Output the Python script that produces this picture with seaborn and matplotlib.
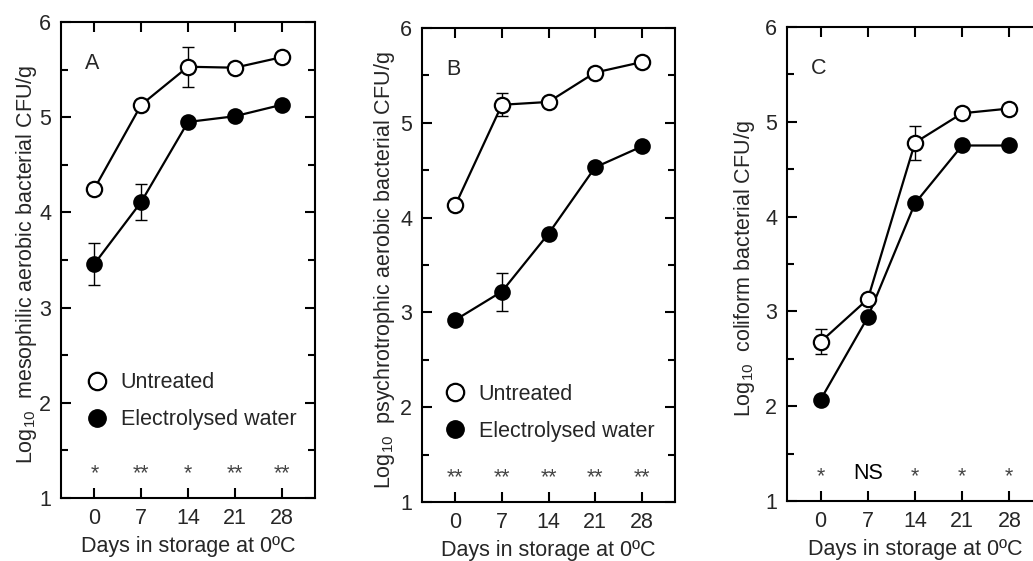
import numpy as np
import pandas as pd
import matplotlib
matplotlib.use("Agg")
import matplotlib.pyplot as plt
import seaborn as sns
from matplotlib.lines import Line2D
from matplotlib.ticker import MultipleLocator

# datos
days = [0, 7, 14, 21, 28]

a_untreated = [4.25, 5.13, 5.53, 5.52, 5.63]
a_untreated_err = [np.nan, np.nan, 0.21, np.nan, np.nan]
a_electro = [3.46, 4.11, 4.95, 5.01, 5.13]
a_electro_err = [0.22, 0.19, np.nan, np.nan, np.nan]
a_sig = ['*', '**', '*', '**', '**']

b_untreated = [4.13, 5.19, 5.22, 5.53, 5.64]
b_untreated_err = [np.nan, 0.12, np.nan, np.nan, np.nan]
b_electro = [2.92, 3.22, 3.83, 4.53, 4.75]
b_electro_err = [np.nan, 0.20, np.nan, np.nan, np.nan]
b_sig = ['**', '**', '**', '**', '**']

c_untreated = [2.68, 3.13, 4.78, 5.09, 5.14]
c_untreated_err = [0.13, np.nan, 0.18, np.nan, np.nan]
c_electro = [2.07, 2.94, 4.14, 4.75, 4.75]
c_electro_err = [np.nan, np.nan, np.nan, np.nan, np.nan]
c_sig = ['*', 'NS', '*', '*', '*']

ylabels = [
    r'Log$_{10}$  mesophilic aerobic bacterial CFU/g',
    r'Log$_{10}$  psychrotrophic aerobic bacterial CFU/g',
    r'Log$_{10}$  coliform bacterial CFU/g',
]
panel_letters = ['A', 'B', 'C']
xlabel = 'Days in storage at 0ºC'

sns.set_style('ticks')
plt.rcParams['font.family'] = ['Liberation Sans', 'DejaVu Sans']
plt.rcParams['mathtext.fontset'] = 'custom'
plt.rcParams['mathtext.rm'] = 'Liberation Sans'
plt.rcParams['mathtext.it'] = 'Liberation Sans:italic'

FS = 15.5
W, H = 1033, 561
fig = plt.figure(figsize=(W / 100, H / 100), dpi=100)

# posiciones en pixeles: izquierda, derecha, arriba, abajo
boxes = [(61, 315, 22, 498), (422, 675, 28, 502), (787, 1043, 27, 501)]
label_x = [-0.086, -0.098, -0.116]
legend_pos = [(0.100, 0.203), (0.088, 0.188), None]

panels = [
    (a_untreated, a_untreated_err, a_electro, a_electro_err, a_sig),
    (b_untreated, b_untreated_err, b_electro, b_electro_err, b_sig),
    (c_untreated, c_untreated_err, c_electro, c_electro_err, c_sig),
]

for i, (unt, unt_err, ele, ele_err, sig) in enumerate(panels):
    l, r, t, b = boxes[i]
    ax = fig.add_axes([l / W, (H - b) / H, (r - l) / W, (b - t) / H])

    # barras de error (solo donde existen)
    for vals, errs in [(unt, unt_err), (ele, ele_err)]:
        d = pd.DataFrame({'day': days, 'val': vals, 'err': errs}).dropna()
        if len(d):
            ax.errorbar(d['day'], d['val'], yerr=d['err'], fmt='none',
                        ecolor='black', elinewidth=1.0, capsize=4.5, capthick=1.0, zorder=2)

    sns.lineplot(x=days, y=ele, ax=ax, color='black', linewidth=1.6,
                 marker='o', markersize=10.5, markerfacecolor='black',
                 markeredgecolor='black', markeredgewidth=1.5, zorder=3)
    sns.lineplot(x=days, y=unt, ax=ax, color='black', linewidth=1.6,
                 marker='o', markersize=11, markerfacecolor='white',
                 markeredgecolor='black', markeredgewidth=1.6, zorder=4)

    # significancia
    for dd, s in zip(days, sig):
        if s == 'NS':
            ax.text(dd, 1.29, s, ha='center', va='center', fontsize=FS, color='black')
        else:
            ax.text(dd, 1.26, s, ha='center', va='center', fontsize=15.5, color='#444444')

    ax.text(-0.3, 5.56, panel_letters[i], ha='center', va='center', fontsize=FS)

    ax.set_xlim(-5, 33)
    ax.set_ylim(1, 6)
    ax.set_xticks(days)
    ax.yaxis.set_major_locator(MultipleLocator(1))
    ax.yaxis.set_minor_locator(MultipleLocator(0.5))
    ax.tick_params(which='both', direction='in', top=True, right=True,
                   width=1.5, color='black', labelsize=FS, pad=7)
    ax.tick_params(which='major', length=7)
    ax.tick_params(which='minor', length=5)
    ax.tick_params(axis='x', which='minor', top=False, bottom=False)
    for sp in ax.spines.values():
        sp.set_linewidth(1.5)
        sp.set_color('black')

    ax.set_xlabel(xlabel, fontsize=FS, labelpad=5)
    ax.set_ylabel(ylabels[i], fontsize=FS)
    ax.yaxis.set_label_coords(label_x[i], 0.49)

    if legend_pos[i] is not None:
        handles = [
            Line2D([], [], ls='none', marker='o', markersize=12.5, markerfacecolor='white',
                   markeredgecolor='black', markeredgewidth=1.6),
            Line2D([], [], ls='none', marker='o', markersize=12.5, markerfacecolor='black',
                   markeredgecolor='black'),
        ]
        ax.legend(handles, ['Untreated', 'Electrolysed water'], frameon=False,
                  loc='center left', bbox_to_anchor=legend_pos[i], borderpad=0,
                  borderaxespad=0, handlelength=1.0, handletextpad=0.6,
                  labelspacing=0.75, fontsize=FS)

fig.savefig('out.png', dpi=100)
